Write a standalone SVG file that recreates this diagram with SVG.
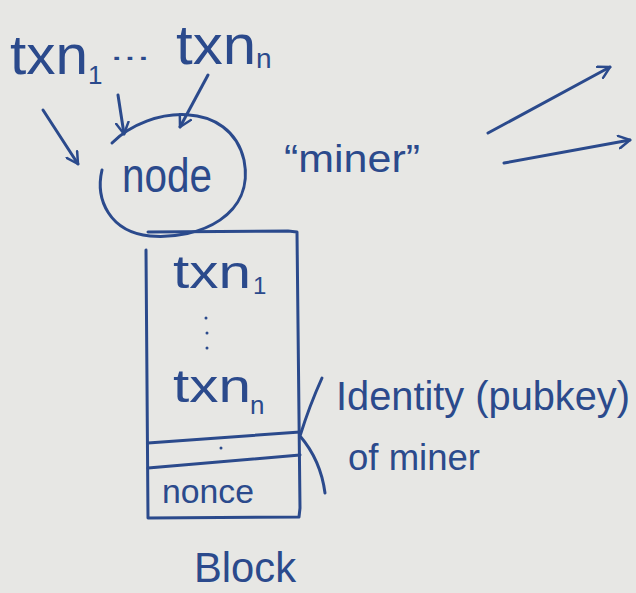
<svg xmlns="http://www.w3.org/2000/svg" width="636" height="593" viewBox="0 0 636 593">
<style>
.ink{fill:none;stroke:#2b4a8c;stroke-width:3;stroke-linecap:round;stroke-linejoin:round}
.t{font-family:"Liberation Sans","DejaVu Sans",sans-serif;fill:#2b4a8c}
</style>
<defs>
<marker id="ah" viewBox="0 0 12 12" refX="10" refY="6" markerWidth="5" markerHeight="5" orient="auto" markerUnits="strokeWidth">
<path d="M1,1 L10,6 L1,11" fill="none" stroke="#2b4a8c" stroke-width="2" stroke-linecap="round" stroke-linejoin="round"/>
</marker>
</defs>
<rect width="636" height="593" fill="#e7e7e4"/>

<g id="txn1-top">
<text class="t" x="10" y="74" font-size="56" textLength="78" lengthAdjust="spacingAndGlyphs">txn</text>
<text class="t" x="88" y="84" font-size="26">1</text>
</g>
<g id="ellipsis-top">
<text class="t" x="110" y="60" font-size="30" textLength="40" lengthAdjust="spacingAndGlyphs">...</text>
</g>
<g id="txnn-top">
<text class="t" x="176" y="64" font-size="56" textLength="80" lengthAdjust="spacingAndGlyphs">txn</text>
<text class="t" x="256" y="68" font-size="28">n</text>
</g>

<g id="node">
<path class="ink" d="M112,143 C150,105 230,100 244,160 C255,215 200,240 150,236 C110,232 95,200 102,170"/>
<text class="t" x="122" y="192" font-size="48" textLength="90" lengthAdjust="spacingAndGlyphs">node</text>
</g>

<g id="miner-label">
<text class="t" x="284" y="172" font-size="38" textLength="136" lengthAdjust="spacingAndGlyphs">“miner”</text>
</g>

<g id="block">
<path class="ink" d="M148,232 L288,231 L297,232 L300,508 L299,517 L148,518 L146,250"/>
<path class="ink" d="M148,443 L300,432"/>
<path class="ink" d="M148,468 L300,455"/>
<text class="t" x="173" y="288" font-size="46" textLength="78" lengthAdjust="spacingAndGlyphs">txn</text>
<text class="t" x="253" y="294" font-size="24">1</text>
<circle cx="206" cy="318" r="1.5" fill="#2b4a8c"/>
<circle cx="207" cy="333" r="1.5" fill="#2b4a8c"/>
<circle cx="207" cy="348" r="1.5" fill="#2b4a8c"/>
<text class="t" x="173" y="402" font-size="46" textLength="78" lengthAdjust="spacingAndGlyphs">txn</text>
<text class="t" x="250" y="414" font-size="26">n</text>
<circle cx="221" cy="448" r="1.5" fill="#2b4a8c"/>
<text class="t" x="162" y="503" font-size="34" textLength="92" lengthAdjust="spacingAndGlyphs">nonce</text>
</g>

<g id="identity">
<path class="ink" d="M322,378 C312,400 305,420 300,436 C312,450 322,470 325,493"/>
<text class="t" x="336" y="410" font-size="40" textLength="294" lengthAdjust="spacingAndGlyphs">Identity (pubkey)</text>
<text class="t" x="348" y="470" font-size="36" textLength="132" lengthAdjust="spacingAndGlyphs">of miner</text>
</g>

<g id="block-label">
<text class="t" x="194" y="582" font-size="42" textLength="102" lengthAdjust="spacingAndGlyphs">Block</text>
</g>

<g id="connectors">
<path class="ink" d="M43,110 L78,164" marker-end="url(#ah)"/>
<path class="ink" d="M118,95 L124,134" marker-end="url(#ah)"/>
<path class="ink" d="M208,75 L180,127" marker-end="url(#ah)"/>
<path class="ink" d="M488,133 L610,67" marker-end="url(#ah)"/>
<path class="ink" d="M504,163 L630,140" marker-end="url(#ah)"/>
</g>
</svg>
